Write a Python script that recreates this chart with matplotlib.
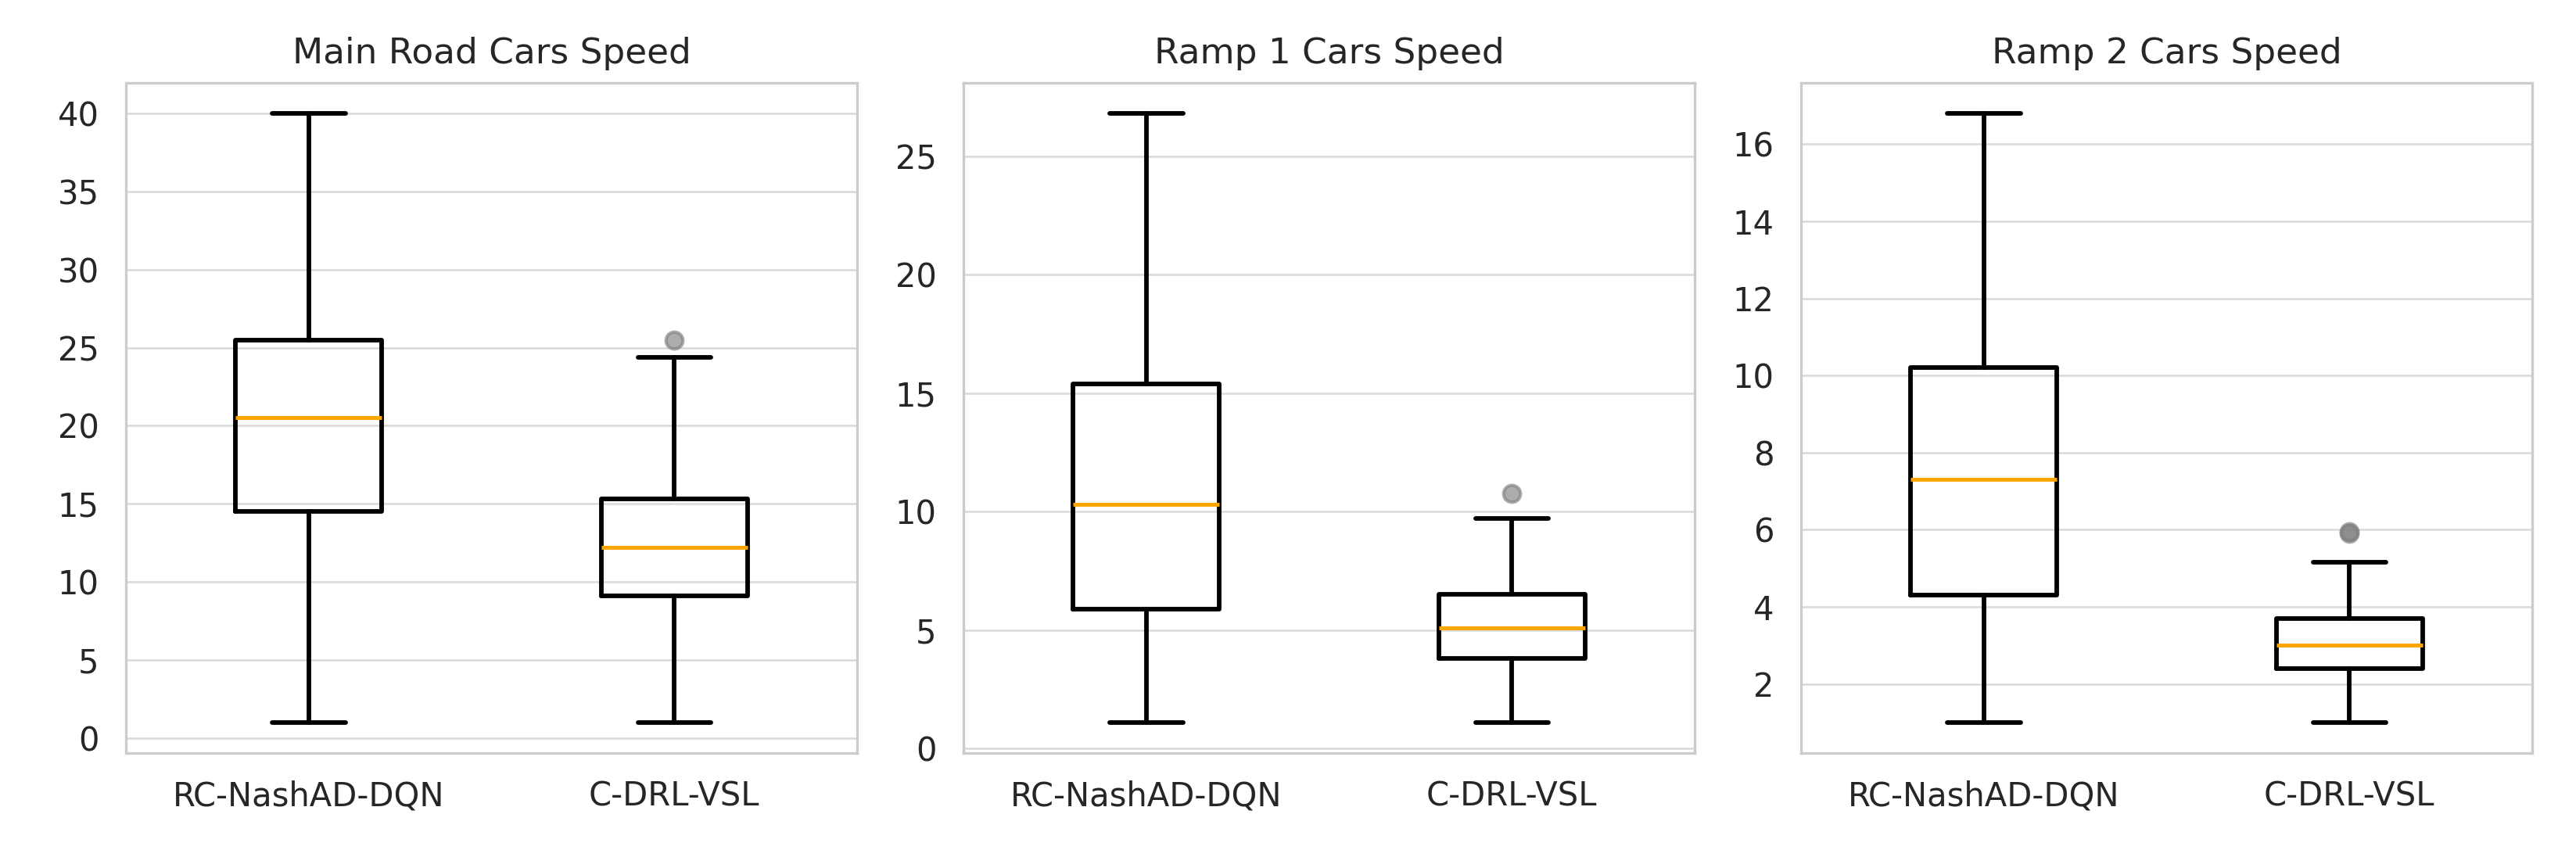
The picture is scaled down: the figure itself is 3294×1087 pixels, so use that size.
import matplotlib
matplotlib.use("Agg")
import matplotlib.pyplot as plt
import seaborn as sns

sns.set_theme(style="whitegrid", context="paper")
plt.rcParams['font.family'] = ['DejaVu Sans']

titles = ["Main Road Cars Speed", "Ramp 1 Cars Speed", "Ramp 2 Cars Speed"]
methods = ["RC-NashAD-DQN", "C-DRL-VSL"]

# five-number summaries per panel: [RC-NashAD-DQN, C-DRL-VSL]
whislo = [[1.0, 1.0], [1.1, 1.1], [1.0, 1.0]]
q1 = [[14.5, 9.1], [5.9, 3.8], [4.3, 2.4]]
med = [[20.5, 12.2], [10.3, 5.1], [7.3, 3.0]]
q3 = [[25.5, 15.3], [15.4, 6.5], [10.2, 3.7]]
whishi = [[40.0, 24.4], [26.8, 9.7], [16.8, 5.15]]
fliers = [[[], [25.5]], [[], [10.75]], [[], [5.9, 5.95]]]

fig, axes = plt.subplots(1, 3, figsize=(3295 / 300, 1087 / 300), dpi=300)
fig.subplots_adjust(left=0.0489, right=0.9827, bottom=0.1141, top=0.9025, wspace=0.1455)

for i, ax in enumerate(axes):
    stats = []
    for j, m in enumerate(methods):
        stats.append(dict(label=m, whislo=whislo[i][j], q1=q1[i][j], med=med[i][j],
                          q3=q3[i][j], whishi=whishi[i][j], fliers=fliers[i][j]))
    ax.bxp(stats, positions=[1, 2], widths=0.4, showfliers=True,
           boxprops=dict(color="black", linewidth=1.4),
           whiskerprops=dict(color="black", linewidth=1.4),
           capprops=dict(color="black", linewidth=1.4),
           medianprops=dict(color="orange", linewidth=1.2),
           flierprops=dict(marker="o", markerfacecolor="gray", markeredgecolor="gray",
                           markersize=5.2, alpha=0.65))
    ax.set_xlim(0.5, 2.5)
    ax.set_title(titles[i], fontsize=10.9, color="#262626")
    ax.tick_params(axis="both", labelsize=10, colors="#262626")
    ax.grid(axis="x", visible=False)
    ax.grid(axis="y", color="#d9d9d9", linewidth=0.6)
    for s in ax.spines.values():
        s.set_color("#cccccc")
        s.set_linewidth(0.8)

fig.savefig("out.png", dpi=300)
